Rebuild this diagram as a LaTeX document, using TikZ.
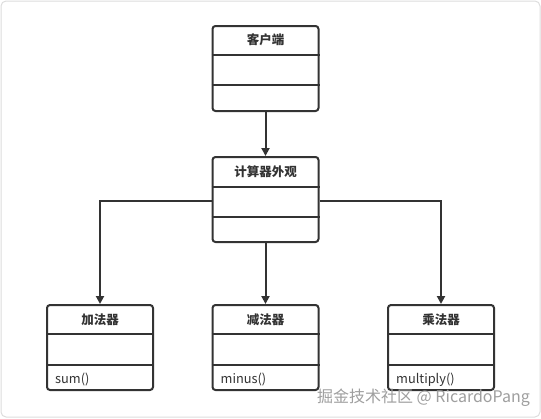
\documentclass[tikz,border=0pt]{standalone}
\usepackage{fontspec}
\setmainfont{Noto Sans CJK SC}
\usetikzlibrary{arrows.meta,calc}
\definecolor{ink}{HTML}{333333}
\definecolor{frame}{HTML}{DDDDDD}
\begin{document}
\begin{tikzpicture}[x=1pt,y=-1pt,
  umlbox/.style={draw=ink,line width=2pt,rounded corners=3pt,minimum width=106pt,minimum height=85pt,inner sep=0pt},
  divider/.style={draw=ink,line width=2pt},
  title/.style={font=\fontsize{12.5}{14}\selectfont\bfseries,text=ink,inner sep=0pt},
  method/.style={font=\fontsize{12.8}{14}\selectfont,text=ink,inner sep=0pt,anchor=west},
  arr/.style={draw=ink,line width=2pt,-{Triangle[length=8pt,width=8pt]}}]
\draw[frame,line width=1pt,rounded corners=5pt,fill=white] (1,1) rectangle (540,417);
\useasboundingbox (0,0) rectangle (541,418);

% client
\node[umlbox] (client) at (265.5,68.5) {};
\node[title] (clientT) at ($(client.north)+(0,15)$) {客户端};
\draw[divider] ($(client.north west)+(0,30)$) coordinate (c1) -- ($(client.north east)+(0,30)$) coordinate (c2);
\draw[divider] ($(client.north west)+(0,60)$) coordinate (c3) -- ($(client.north east)+(0,60)$) coordinate (c4);

% facade
\node[umlbox] (facade) at (265.5,199.5) {};
\node[title] (facadeT) at ($(facade.north)+(0,16)$) {计算器外观};
\draw[divider] ($(facade.north west)+(0,31)$) coordinate (f1) -- ($(facade.north east)+(0,31)$) coordinate (f2);
\draw[divider] ($(facade.north west)+(0,61)$) coordinate (f3) -- ($(facade.north east)+(0,61)$) coordinate (f4);

% adder
\node[umlbox] (add) at (100,347.5) {};
\node[title] (addT) at ($(add.north)+(0,16)$) {加法器};
\draw[divider] ($(add.north west)+(0,30)$) coordinate (a1) -- ($(add.north east)+(0,30)$) coordinate (a2);
\draw[divider] ($(add.north west)+(0,61)$) coordinate (a3) -- ($(add.north east)+(0,61)$) coordinate (a4);
\node[method] (addM) at ($(add.north west)+(9,76)$) {sum()};

% subtractor
\node[umlbox] (sub) at (265.5,347.5) {};
\node[title] (subT) at ($(sub.north)+(0,16)$) {减法器};
\draw[divider] ($(sub.north west)+(0,30)$) coordinate (s1) -- ($(sub.north east)+(0,30)$) coordinate (s2);
\draw[divider] ($(sub.north west)+(0,61)$) coordinate (s3) -- ($(sub.north east)+(0,61)$) coordinate (s4);
\node[method] (subM) at ($(sub.north west)+(9,76)$) {minus()};

% multiplier
\node[umlbox] (mul) at (441,347.5) {};
\node[title] (mulT) at ($(mul.north)+(0,16)$) {乘法器};
\draw[divider] ($(mul.north west)+(0,30)$) coordinate (m1) -- ($(mul.north east)+(0,30)$) coordinate (m2);
\draw[divider] ($(mul.north west)+(0,61)$) coordinate (m3) -- ($(mul.north east)+(0,61)$) coordinate (m4);
\node[method] (mulM) at ($(mul.north west)+(9,76)$) {multiply()};

% connectors
\draw[arr] (client.south) -- (facade.north);
\coordinate (fl) at ($(facade.west)+(0,1.5)$);
\coordinate (fr) at ($(facade.east)+(0,1.5)$);
\draw[arr] (fl) -| (add.north);
\draw[arr] (facade.south) -- (sub.north);
\draw[arr] (fr) -| (mul.north);

% watermark
\node[font=\fontsize{16}{18}\selectfont,text=gray!75,inner sep=0pt,anchor=east] (wm) at (530,398) {掘金技术社区 @ RicardoPang};
\end{tikzpicture}
\end{document}
